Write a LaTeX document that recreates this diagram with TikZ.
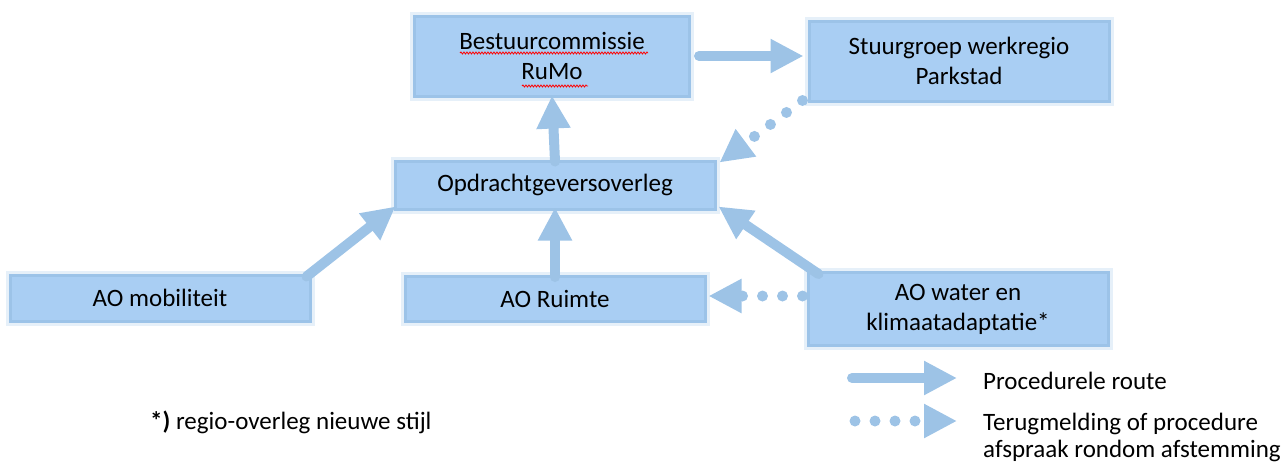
\documentclass[tikz,border=0pt]{standalone}
\usepackage{fontspec}
\setmainfont{Carlito}
\usetikzlibrary{arrows.meta,decorations.pathmorphing}
\definecolor{boxfill}{HTML}{A9CEF3}
\definecolor{boxedge}{HTML}{9CC3E8}
\definecolor{arr}{HTML}{9DC3E6}
\tikzset{
  box/.style={fill=boxfill, draw=boxedge, line width=3pt, align=center,
    font=\fontsize{25}{30}\selectfont, inner sep=0pt,
    preaction={draw=boxedge, line width=9pt, opacity=0.25}},
  proc/.style={draw=arr, line width=10pt, line cap=round,
    -{Triangle[length=33pt,width=32pt,line cap=butt]}},
  back/.style={draw=arr, line width=11pt, line cap=round, dash pattern=on 0pt off 20pt,
    -{Triangle[length=33pt,width=32pt,line cap=butt]}},
  lbl/.style={font=\fontsize{25}{27}\selectfont, align=left, anchor=west, inner sep=0pt},
  wavy/.style={draw=red, line width=0.8pt, decorate, decoration={snake, amplitude=1pt, segment length=3pt}}
}
\begin{document}
\begin{tikzpicture}[x=1pt,y=-1pt]
\useasboundingbox (0,0) rectangle (1287,464);
\node[box, minimum width=275, minimum height=80] (bc) at (552,56) {Bestuurcommissie\\RuMo};
\node[box, minimum width=300, minimum height=80] (sg) at (959,61) {Stuurgroep werkregio\\Parkstad};
\node[box, minimum width=320, minimum height=48] (ov) at (555,185) {Opdrachtgeversoverleg};
\node[box, minimum width=300, minimum height=46] (aom) at (160,298) {AO mobiliteit};
\node[box, minimum width=300, minimum height=45] (aor) at (555,299) {AO Ruimte};
\node[box, minimum width=300, minimum height=73] (aow) at (958,309) {AO water en\\klimaatadaptatie*};
% spellcheck underlines
\draw[wavy] ([xshift=-92,yshift=3]bc.center) -- ([xshift=96,yshift=3]bc.center);
\draw[wavy] ([xshift=-30,yshift=-30]bc.center) -- ([xshift=36,yshift=-30]bc.center);
% connectors
\draw[proc] ([xshift=8]bc.east) -- ([xshift=-4]sg.west |- bc.east);
\draw[proc] ([yshift=-2]ov.north) -- ([yshift=2]bc.south);
\draw[proc] ([xshift=-5,yshift=-3]aom.north east) -- ([xshift=2,yshift=4]ov.south west);
\draw[proc] ([yshift=-2]aor.north) -- ([yshift=3]ov.south);
\draw[proc] ([xshift=12,yshift=-3]aow.north west) -- ([xshift=2,yshift=4]ov.south east);
\draw[back] ([xshift=-5,yshift=2]sg.south west) -- ([xshift=3,yshift=-3]ov.north east);
\draw[back] ([xshift=-4,yshift=3]aow.west |- aor.east) -- ([xshift=2,yshift=3]aor.east);
% legend
\coordinate (l1a) at (852,378);
\coordinate (l1b) at (957,378);
\coordinate (l2a) at (855,421);
\coordinate (l2b) at (957,421);
\draw[proc] (l1a) -- (l1b);
\draw[back] (l2a) -- (l2b);
\node[lbl] (t1) at (983,381) {Procedurele route};
\node[lbl] (t2) at (983,437) {Terugmelding of procedure\\afspraak rondom afstemming};
\node[lbl] (t3) at (150,422) {\textbf{*)} regio-overleg nieuwe stijl};
\end{tikzpicture}
\end{document}
